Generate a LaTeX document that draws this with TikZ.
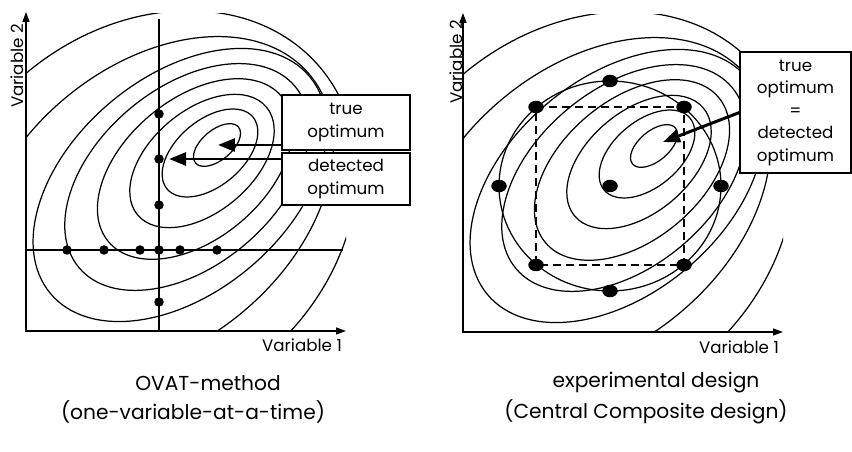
\documentclass[tikz,border=0pt]{standalone}
\usepackage{fontspec}
\setmainfont{Poppins}
\usetikzlibrary{arrows.meta,shapes.geometric,positioning}

\tikzset{
  isoline/.style={line width=0.7pt},
  axisline/.style={line width=0.8pt,{Triangle[length=2mm,width=1.4mm]}-{Triangle[length=2mm,width=1.4mm]}},
  bigarrow/.style={line width=1.7pt,-{Triangle[length=3.4mm,width=2.6mm]}},
  dot/.style={circle,fill,inner sep=0pt,minimum size=1.9mm},
  cdot/.style={ellipse,fill,inner sep=0pt,minimum width=3.1mm,minimum height=2.5mm},
  infobox/.style={draw,fill=white,line width=0.6pt,align=center,inner sep=0pt,
    font=\fontsize{9.5}{13}\selectfont},
  axlabel/.style={font=\fontsize{9.5}{11}\selectfont},
  captext/.style={font=\fontsize{11.5}{14}\selectfont}
}

\begin{document}
\begin{tikzpicture}[x=0.02cm,y=-0.02cm]
  \useasboundingbox (0,0) rectangle (852,452);

  % contour lines, same for both panels
  \foreach \px/\py in {0/0,437/1}{
    \begin{scope}[shift={(\px,\py)}]
      \clip (26,14) rectangle (346,331);
      \foreach \cx/\cy/\a/\b in {217/145/28/15, 210/153/56/33, 202/161/84/51,
          195/169/113/70, 187/177/141/89, 180/185/169/108, 154/205/203/139, 145/215/229/185}
        \draw[isoline,rotate around={40:(\cx,\cy)}] (\cx,\cy) ellipse [x radius=\a,y radius=\b];
    \end{scope}
  }

  % left panel: OVAT
  \draw[axisline] (26,12) -- (26,331) -- (346,331);
  \node[axlabel,rotate=90] (ylabA) at (17,66) {Variable 2};
  \node[axlabel] (xlabA) at (302,345) {Variable 1};
  \draw[line width=0.6pt] (159,19) -- (159,331);
  \draw[line width=0.6pt] (26,250) -- (343,250);
  \foreach \x [count=\i] in {67,104,140,180,217}
    \node[dot] (h\i) at (\x,250) {};
  \foreach \y [count=\i] in {114,159,205,250,302}
    \node[dot] (v\i) at (159,\y) {};
  \coordinate (trueopt) at (218,145);
  \node[infobox,minimum width=2.56cm,minimum height=1.1cm] (truebox) at (346,122.5) {true\\optimum};
  \node[infobox,minimum width=2.56cm,minimum height=1.04cm] (detbox) at (346,179) {detected\\optimum};
  \draw[bigarrow] (truebox.west |- trueopt) -- (trueopt);
  \draw[bigarrow,shorten >=1mm] (detbox.west |- v2) -- (v2.east);
  \node[captext] (capA1) at (208,383) {OVAT-method};
  \node[captext] (capA2) at (193,412) {(one-variable-at-a-time)};

  % right panel: central composite design
  \draw[axisline] (463,13) -- (463,332) -- (783,332);
  \node[axlabel,rotate=90] (ylabB) at (456,62) {Variable 2};
  \node[axlabel] (xlabB) at (739,347) {Variable 1};
  \node[cdot] (cc) at (610,186) {};
  \foreach \n/\x/\y in {c1/536/107, c2/684/107, c3/684/265, c4/536/265,
      a1/610/81, a2/721/186, a3/610/291, a4/499/186}
    \node[cdot] (\n) at (\x,\y) {};
  \draw[line width=0.6pt,dash pattern=on 1.6mm off 1mm] (c1.center) -- (c2.center) -- (c3.center) -- (c4.center) -- cycle;
  \draw[isoline] (cc.center) ellipse [x radius=111,y radius=105];
  \coordinate (ccdopt) at (663,142);
  \node[infobox,minimum width=2.22cm,minimum height=2.42cm,font=\fontsize{9.5}{12.8}\selectfont] (ccdbox) at (795.5,112.5)
    {true\\optimum\\=\\detected\\optimum};
  \draw[bigarrow] (ccdbox.west) -- (ccdopt);
  \node[captext] (capB1) at (656,383) {experimental design};
  \node[captext] (capB2) at (646,412) {(Central Composite design)};
\end{tikzpicture}
\end{document}
